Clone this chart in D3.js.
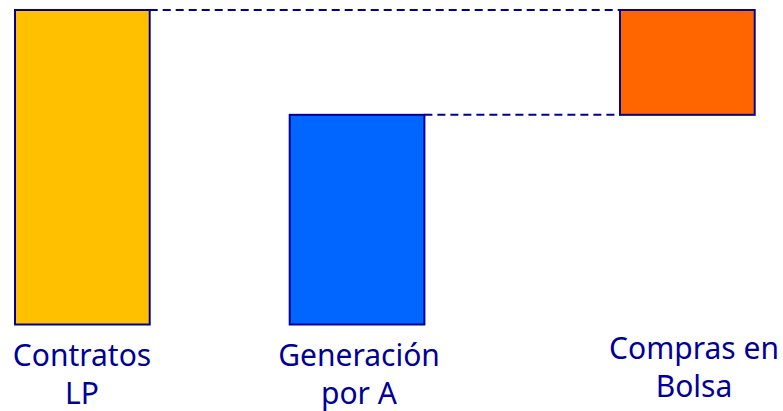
<!DOCTYPE html>
<html>
<head>
<meta charset="utf-8">
<script src="https://cdn.jsdelivr.net/npm/d3@7"></script>
<style>
  body { margin: 0; background: #fff; }
  text { font-family: "Noto Sans", sans-serif; }
</style>
</head>
<body>
<div id="chart"></div>
<script>
// data
const categories = ["Contratos LP", "Generación por A", "Compras en Bolsa"];
const labelLines = [["Contratos", "LP"], ["Generación", "por A"], ["Compras en", "Bolsa"]];
const startValues = [0, 0, 200];
const endValues = [300, 200, 300];
// connectors: from bar (top) to bar (left side)
const connectors = [["Contratos LP", "Compras en Bolsa"], ["Generación por A", "Compras en Bolsa"]];

const colors = ["#FFC000", "#0066FF", "#FF6600"];
const navy = "#000099";

const width = 783, height = 411;
const barWidth = 134.7;

const data = categories.map((c, i) => ({
  name: c, lines: labelLines[i], start: startValues[i], end: endValues[i], color: colors[i]
}));

// uneven layout in the original slide, so an ordinal scale for x
const x = d3.scaleOrdinal()
    .domain(categories)
    .range([15, 289.7, 620]);

const labelX = d3.scaleOrdinal()
    .domain(categories)
    .range([82, 359, 694]);

const labelY = d3.scaleOrdinal()
    .domain(categories)
    .range([366, 366, 359]);

const y = d3.scaleLinear()
    .domain([0, 300])
    .range([324.5, 10]);

const svg = d3.create("svg")
    .attr("width", width)
    .attr("height", height)
    .attr("viewBox", [0, 0, width, height]);

svg.append("g")
    .attr("class", "connectors")
  .selectAll("line")
  .data(connectors)
  .join("line")
    .attr("x1", d => x(d[0]) + barWidth)
    .attr("x2", d => x(d[1]))
    .attr("y1", d => y(endValues[categories.indexOf(d[0])]))
    .attr("y2", d => y(endValues[categories.indexOf(d[0])]))
    .attr("stroke", navy)
    .attr("stroke-width", 2)
    .attr("stroke-dasharray", "8,5");

svg.append("g")
    .attr("class", "bars")
  .selectAll("rect")
  .data(data)
  .join("rect")
    .attr("x", d => x(d.name))
    .attr("y", d => y(d.end))
    .attr("width", barWidth)
    .attr("height", d => y(d.start) - y(d.end))
    .attr("fill", d => d.color)
    .attr("stroke", navy)
    .attr("stroke-width", 2);

svg.append("g")
    .attr("class", "labels")
  .selectAll("text")
  .data(data)
  .join("text")
    .attr("x", d => labelX(d.name))
    .attr("y", d => labelY(d.name))
    .attr("text-anchor", "middle")
    .attr("fill", navy)
    .attr("font-size", 30)
  .selectAll("tspan")
  .data(d => d.lines.map((t, i) => ({t, i, d})))
  .join("tspan")
    .attr("x", e => labelX(e.d.name))
    .attr("dy", e => e.i === 0 ? 0 : 37.5)
    .text(e => e.t);

d3.select("#chart").append(() => svg.node());
</script>
</body>
</html>
